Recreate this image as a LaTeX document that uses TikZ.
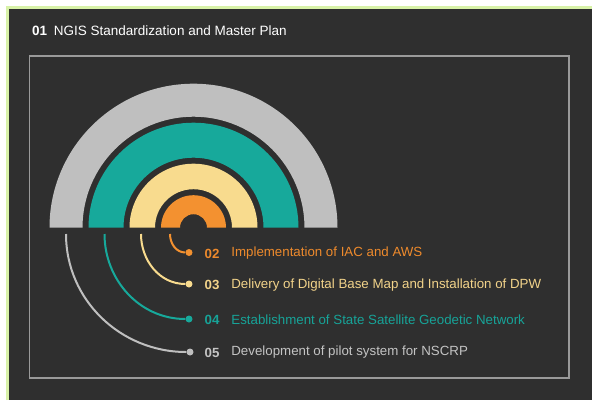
\documentclass[tikz,border=0pt]{standalone}
\usepackage{fontspec}
\setmainfont{Liberation Sans}
\usetikzlibrary{positioning}

\definecolor{bgdark}{HTML}{2F2F2F}
\definecolor{edgegreen}{HTML}{D8F2A8}
\definecolor{framegrey}{HTML}{9A9A9A}
\definecolor{ringgrey}{HTML}{BFBFBF}
\definecolor{ringteal}{HTML}{17A99B}
\definecolor{ringyellow}{HTML}{F8DB8E}
\definecolor{ringorange}{HTML}{F39130}
\definecolor{txtorange}{HTML}{EE8A2C}
\definecolor{txtyellow}{HTML}{F2D38A}
\definecolor{txtteal}{HTML}{17A398}
\definecolor{txtgrey}{HTML}{C4C4C4}

\tikzset{
  dot/.style={circle,fill,inner sep=0pt,minimum size=7pt},
  num/.style={anchor=west,inner sep=0pt,font=\fontsize{13.3}{15}\selectfont\bfseries},
  itemtext/.style={anchor=west,inner sep=0pt,font=\fontsize{13.3}{15}\selectfont},
  link/.style={line width=2pt}
}

\begin{document}
\begin{tikzpicture}[x=1pt,y=-1pt]
\useasboundingbox (0,0) rectangle (592,400);
% page background
\fill[white] (0,0) rectangle (592,400);
\fill[bgdark] (9,9) rectangle (592,400);
\draw[edgegreen,line width=2.5pt] (7.5,400) -- (7.5,7.5) -- (592,7.5);
% title
\node[anchor=west,inner sep=0pt,text=white,font=\fontsize{13.5}{15}\selectfont] (title) at (32,31)
  {\textbf{01}\enspace NGIS Standardization and Master Plan};
% inner frame
\draw[framegrey,line width=1.2pt] (29.5,56) rectangle (569,378);
% half rings
\def\cx{193.5}
\def\by{227.7}
\foreach \ro/\ri/\col in {144/111/ringgrey, 105/70/ringteal, 64/38.5/ringyellow, 32.5/13.5/ringorange}{
  \fill[\col] (\cx-\ro,\by) arc[start angle=180,end angle=360,radius=\ro]
    -- (\cx+\ri,\by) arc[start angle=360,end angle=180,radius=\ri] -- cycle;
}
% start points under the rings
\coordinate (s2) at (170,234);
\coordinate (s3) at (141,234);
\coordinate (s4) at (104.5,234);
\coordinate (s5) at (66,234);
% dots, numbers and labels
\node[dot,ringorange] (d2) at (189,252.5) {};
\node[dot,ringyellow] (d3) at (189,284) {};
\node[dot,ringteal] (d4) at (189,319) {};
\node[dot,ringgrey] (d5) at (190,352) {};
\node[num,text=txtorange] (n2) at (204.5,253.5) {02};
\node[num,text=txtyellow] (n3) at (204.5,285) {03};
\node[num,text=txtteal] (n4) at (204.5,319.5) {04};
\node[num,text=txtgrey] (n5) at (204.5,352.5) {05};
\node[itemtext,text=txtorange,right=11.5pt of n2] (t2) {Implementation of IAC and AWS};
\node[itemtext,text=txtyellow,right=11.5pt of n3] (t3) {Delivery of Digital Base Map and Installation of DPW};
\node[itemtext,text=txtteal,right=11.5pt of n4] (t4) {Establishment of State Satellite Geodetic Network};
\node[itemtext,text=txtgrey,right=11.5pt of n5] (t5) {Development of pilot system for NSCRP};
% connectors
\draw[link,ringorange] (s2) to[out=-90,in=180] (d2);
\draw[link,ringyellow] (s3) to[out=-90,in=180] (d3);
\draw[link,ringteal] (s4) to[out=-90,in=180] (d4);
\draw[link,ringgrey] (s5) to[out=-90,in=180] (d5);
\end{tikzpicture}
\end{document}
